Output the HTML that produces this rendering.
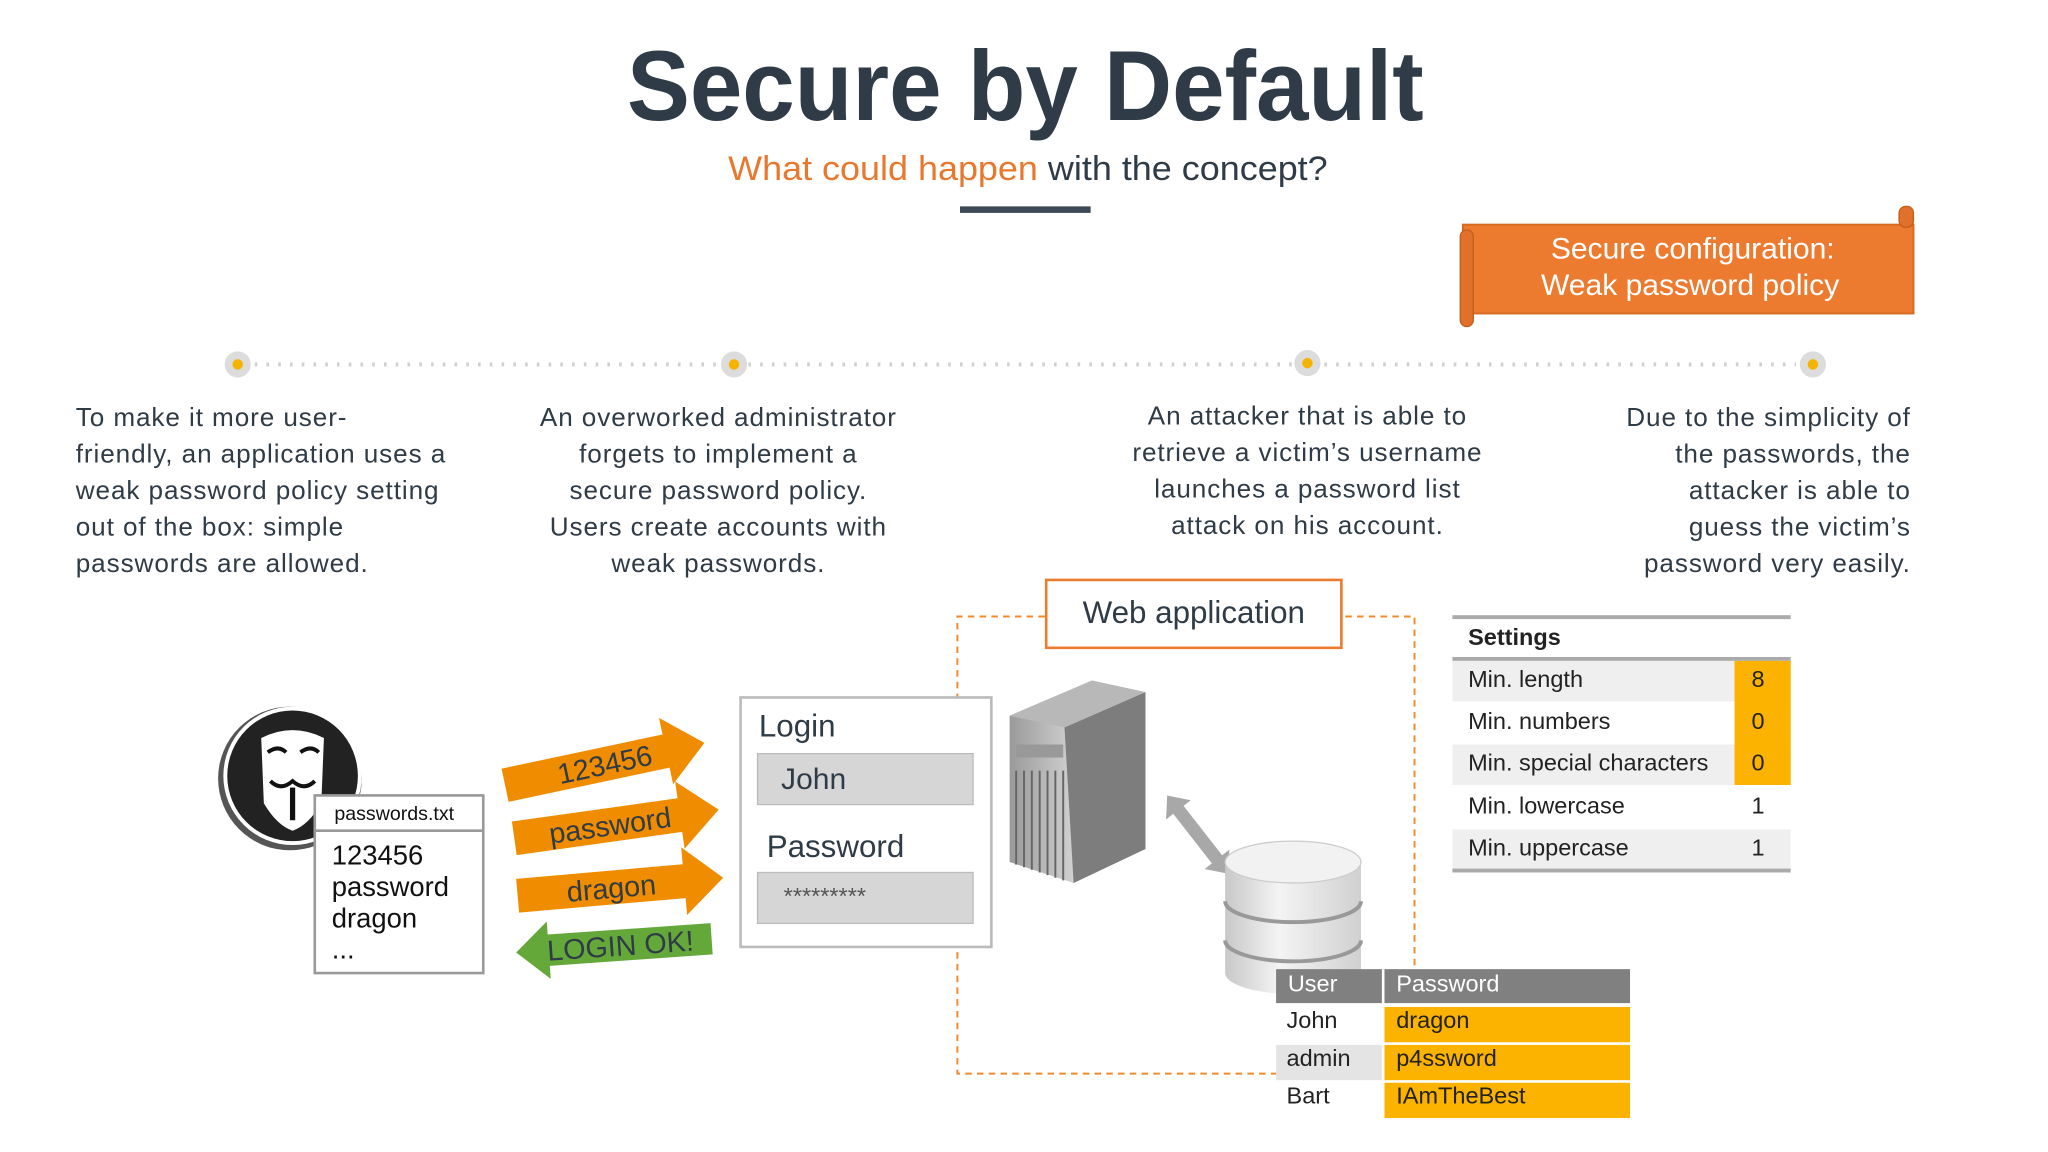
<!DOCTYPE html>
<html><head><meta charset="utf-8"><style>
html,body{margin:0;padding:0;background:#fff;width:2048px;height:1152px;overflow:hidden}
svg{display:block}
text{font-family:"Liberation Sans",sans-serif}
.col text{letter-spacing:0.7px}
</style></head><body>
<svg width="2048" height="1152" viewBox="0 0 1568 882" xmlns="http://www.w3.org/2000/svg">
<defs>
<linearGradient id="srv" x1="0" x2="1" y1="0" y2="0"><stop offset="0" stop-color="#9a9a9a"/><stop offset="0.5" stop-color="#d4d4d4"/><stop offset="1" stop-color="#8a8a8a"/></linearGradient>
<linearGradient id="db" x1="0" x2="1"><stop offset="0" stop-color="#c8c8c8"/><stop offset="0.4" stop-color="#f4f4f4"/><stop offset="1" stop-color="#d0d0d0"/></linearGradient>
</defs>
<text x="785" y="92" text-anchor="middle" font-size="76" font-weight="bold" fill="#2f3b46" textLength="610" lengthAdjust="spacingAndGlyphs">Secure by Default</text>
<text x="787" y="138" text-anchor="middle" font-size="26" fill="#2f3b46" textLength="459" lengthAdjust="spacingAndGlyphs"><tspan fill="#e8782e">What could happen</tspan> with the concept?</text>
<rect x="735" y="158" width="100" height="5" fill="#3d4a55"/>
<rect x="1120" y="172" width="345" height="68" fill="#ec7b30" stroke="#d66a20" stroke-width="1.5"/>
<rect x="1118" y="176" width="10" height="74" rx="5" fill="#e0702a" stroke="#c35e1a"/>
<rect x="1454" y="158" width="11" height="16" rx="5" fill="#e0702a" stroke="#c35e1a"/>
<text x="1296" y="198" text-anchor="middle" font-size="23" fill="#fff">Secure configuration:</text>
<text x="1294" y="226" text-anchor="middle" font-size="23" fill="#fff">Weak password policy</text>
<line x1="195" y1="279" x2="1375" y2="279" stroke="#cfcfcf" stroke-width="3" stroke-dasharray="2,7"/>
<g fill="#dcdcdc"><circle cx="182" cy="279" r="10"/><circle cx="562" cy="279" r="10"/><circle cx="1001" cy="278" r="10"/><circle cx="1388" cy="279" r="10"/></g>
<g fill="#f5b400"><circle cx="182" cy="279" r="4"/><circle cx="562" cy="279" r="4"/><circle cx="1001" cy="278" r="4"/><circle cx="1388" cy="279" r="4"/></g>
<g class="col" font-size="20" fill="#2f3b46">
<text x="58" y="326">To make it more user-</text>
<text x="58" y="354">friendly, an application uses a</text>
<text x="58" y="382">weak password policy setting</text>
<text x="58" y="410">out of the box: simple</text>
<text x="58" y="438">passwords are allowed.</text>
<g text-anchor="middle">
<text x="550" y="326">An overworked administrator</text>
<text x="550" y="354">forgets to implement a</text>
<text x="550" y="382">secure password policy.</text>
<text x="550" y="410">Users create accounts with</text>
<text x="550" y="438">weak passwords.</text>
<text x="1001" y="325">An attacker that is able to</text>
<text x="1001" y="353">retrieve a victim’s username</text>
<text x="1001" y="381">launches a password list</text>
<text x="1001" y="409">attack on his account.</text>
</g>
<g text-anchor="end">
<text x="1463" y="326">Due to the simplicity of</text>
<text x="1463" y="354">the passwords, the</text>
<text x="1463" y="382">attacker is able to</text>
<text x="1463" y="410">guess the victim’s</text>
<text x="1463" y="438">password very easily.</text>
</g></g>
<path d="M800,472 H733 V822 H977 M1030,472 H1083 V742" fill="none" stroke="#f08a2a" stroke-width="1.5" stroke-dasharray="5,4"/>
<rect x="801" y="444" width="226" height="52" fill="#fff" stroke="#ec7b30" stroke-width="2"/>
<text x="914" y="477" text-anchor="middle" font-size="24" fill="#2f3b46">Web application</text>
<rect x="1112" y="471" width="259" height="3" fill="#aaa"/>
<text x="1124" y="494" font-size="18" font-weight="bold" fill="#222">Settings</text>
<rect x="1112" y="503" width="259" height="3" fill="#aaa"/>
<rect x="1112" y="506" width="259" height="31" fill="#efefef"/>
<rect x="1112" y="570" width="259" height="31" fill="#efefef"/>
<rect x="1112" y="635" width="259" height="30" fill="#efefef"/>
<rect x="1328" y="506" width="43" height="95" fill="#fbb300"/>
<rect x="1112" y="665" width="259" height="3" fill="#aaa"/>
<g font-size="18" fill="#222">
<text x="1124" y="526">Min. length</text><text x="1341" y="526">8</text>
<text x="1124" y="558">Min. numbers</text><text x="1341" y="558">0</text>
<text x="1124" y="590">Min. special characters</text><text x="1341" y="590">0</text>
<text x="1124" y="623">Min. lowercase</text><text x="1341" y="623">1</text>
<text x="1124" y="655">Min. uppercase</text><text x="1341" y="655">1</text>
</g>
<rect x="567" y="534" width="192" height="191" fill="#fff" stroke="#bbb" stroke-width="2"/>
<text x="581" y="564" font-size="24" fill="#2f3b46">Login</text>
<rect x="580" y="577" width="165" height="39" fill="#d6d6d6" stroke="#bbb"/>
<text x="598" y="604" font-size="23" fill="#2f3b46">John</text>
<text x="587" y="656" font-size="24" fill="#2f3b46">Password</text>
<rect x="580" y="668" width="165" height="39" fill="#d6d6d6" stroke="#bbb"/>
<text x="600" y="692" font-size="18" fill="#555">*********</text>
<polygon points="773,548 836,521 877,530 877,650 822,676 773,660" fill="url(#srv)"/>
<polygon points="773,548 836,521 877,530 815,557" fill="#b8b8b8"/>
<polygon points="815,557 877,530 877,650 822,676" fill="#7d7d7d"/>
<g stroke="#666" stroke-width="1.5"><line x1="778" y1="590" x2="778" y2="662"/><line x1="784" y1="590" x2="784" y2="664"/><line x1="790" y1="590" x2="790" y2="666"/><line x1="796" y1="590" x2="796" y2="668"/><line x1="802" y1="590" x2="802" y2="670"/><line x1="808" y1="590" x2="808" y2="672"/><line x1="814" y1="590" x2="814" y2="674"/></g>
<rect x="778" y="570" width="36" height="10" fill="#999"/>
<g transform="translate(917,639) rotate(52)"><polygon points="-38,0 -24,-12 -24,-5 24,-5 24,-12 38,0 24,12 24,5 -24,5 -24,12" fill="#a8a8a8"/></g>
<path d="M938,660 V745 A52,16 0 0 0 1042,745 V660" fill="url(#db)"/>
<ellipse cx="990" cy="660" rx="52" ry="16" fill="#f2f2f2" stroke="#ccc"/>
<path d="M938,690 A52,16 0 0 0 1042,690 M938,720 A52,16 0 0 0 1042,720" fill="none" stroke="#999" stroke-width="3"/>
<rect x="977" y="742" width="271" height="26" fill="#808080"/>
<line x1="1059" y1="742" x2="1059" y2="855" stroke="#fff" stroke-width="2"/>
<rect x="977" y="800" width="81" height="27" fill="#e4e4e4"/>
<rect x="1060" y="771" width="188" height="27" fill="#fbb300"/>
<rect x="1060" y="800" width="188" height="27" fill="#fbb300"/>
<rect x="1060" y="829" width="188" height="27" fill="#fbb300"/>
<g font-size="18" fill="#222">
<text x="986" y="759" fill="#fff">User</text><text x="1069" y="759" fill="#fff">Password</text>
<text x="985" y="787">John</text><text x="1069" y="787">dragon</text>
<text x="985" y="816">admin</text><text x="1069" y="816">p4ssword</text>
<text x="985" y="845">Bart</text><text x="1069" y="845">IAmTheBest</text>
</g>
<circle cx="222" cy="596" r="55" fill="#555"/>
<circle cx="224" cy="594" r="53" fill="#fff"/>
<circle cx="224" cy="594" r="50" fill="#222"/>
<path d="M200,565 Q224,553 248,565 L246,615 Q236,632 224,636 Q212,632 202,615 Z" fill="#fff"/>
<path d="M205,576 q8,-6 14,0 M230,576 q8,-6 14,0 M207,598 q8,8 17,0 q9,8 17,0" stroke="#111" stroke-width="3" fill="none"/>
<rect x="222" y="603" width="4" height="25" fill="#111"/>
<rect x="241" y="609" width="129" height="136" fill="#fff" stroke="#999" stroke-width="2"/>
<line x1="241" y1="636" x2="370" y2="636" stroke="#999" stroke-width="2"/>
<text x="256" y="628" font-size="15" fill="#111">passwords.txt</text>
<g font-size="21" fill="#111"><text x="254" y="662">123456</text><text x="254" y="686">password</text><text x="254" y="710">dragon</text><text x="254" y="734">...</text></g>
<g font-size="22" fill="#2f3b46" text-anchor="middle">
<g transform="translate(463,585) rotate(-12)"><path d="M-78,-13 L48,-13 L48,-26 L78,0 L48,26 L48,13 L-78,13Z" fill="#f08c00"/><text x="0" y="8">123456</text></g>
<g transform="translate(471,631) rotate(-8)"><path d="M-78,-13 L50,-13 L50,-26 L80,0 L50,26 L50,13 L-78,13Z" fill="#f08c00"/><text x="-4" y="8">password</text></g>
<g transform="translate(474,679) rotate(-5)"><path d="M-78,-13 L50,-13 L50,-26 L80,0 L50,26 L50,13 L-78,13Z" fill="#f08c00"/><text x="-6" y="8">dragon</text></g>
<g transform="translate(470,724) rotate(-4)"><path d="M75,-12 L-50,-12 L-50,-22 L-75,0 L-50,22 L-50,12 L75,12Z" fill="#65a83a"/><text x="5" y="8">LOGIN OK!</text></g>
</g>
</svg>
</body></html>
